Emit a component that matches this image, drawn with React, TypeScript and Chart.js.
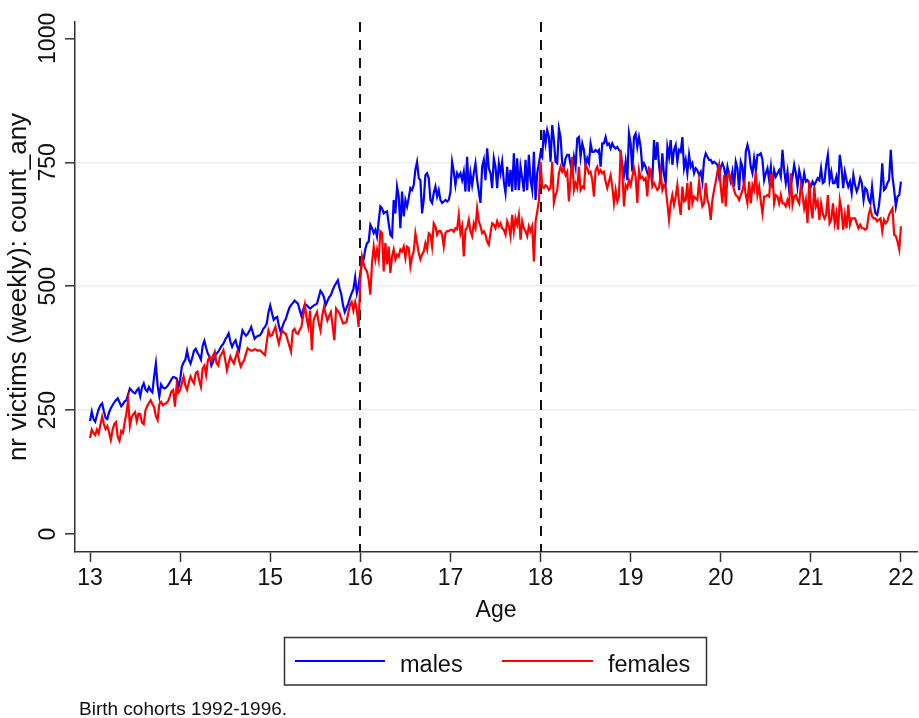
import React, { useEffect, useRef } from "react";
import { Chart, registerables } from "chart.js";

Chart.register(...registerables);

const FONT = "'Liberation Sans', Arial, Helvetica, sans-serif";

// Tick values / labels
const xTicks = [13, 14, 15, 16, 17, 18, 19, 20, 21, 22];
const yTicks = [0, 250, 500, 750, 1000];
const gridValues = [250, 500, 750];
const cutoffAges = [16, 18];
const seriesLabels = ["males", "females"];
const xTitle = "Age";
const yTitle = "nr victims (weekly): count_any";
const noteText = "Birth cohorts 1992-1996.";

// Weekly counts, males, by year of age
const males13 = [228,247,232,227,240,252,260,264,248,234,232,246,254,260,266,270,274,266,258,262,268,270,282,294,290,286,284,290,294,278,296,304,292,288,297,290,286,318,344,300,278,302,296,294,296,300,306,312,317,316,314,295];
const males14 = [312,338,346,352,370,352,344,356,370,374,366,360,352,380,390,376,364,358,340,348,358,364,368,374,380,384,392,398,405,388,378,386,391,378,370,392,411,405,400,404,410,418,406,394,398,400,401,406,414,418,425,448];
const males15 = [461,446,432,436,438,420,408,418,428,434,446,456,462,466,471,468,465,452,440,452,464,462,458,455,458,461,463,465,478,491,486,478,462,470,478,482,492,500,506,512,496,484,462,448,456,465,476,486,494,518,486,500];
const males16 = [527,547,554,575,587,590,624,617,607,614,600,631,661,657,647,650,651,627,604,600,674,647,701,681,617,691,641,674,661,678,698,694,704,735,751,718,714,647,674,724,728,718,674,668,688,701,681,694,674,668,671,674,671,674];
const males17 = [690,751,731,704,728,721,728,714,731,691,761,691,728,704,728,748,714,691,668,741,755,714,778,738,728,698,758,741,698,748,728,751,711,688,741,701,735,691,768,694,758,694,741,718,691,755,694,765,714,694,771,674,728,748];
const males18 = [768,761,815,788,815,801,751,825,795,751,748,818,801,748,738,758,765,765,745,731,761,741,798,801,761,788,775,741,758,748,788,771,771,775,771,775,741,788,788,801,785,788,778,788,781,778,781,775,771,745,724,751,714,808];
const males19 = [788,731,801,808,781,801,781,738,748,741,728,721,731,714,795,755,791,745,714,768,724,708,781,761,795,745,775,785,751,775,771,801,738,755,728,765,741,748,728,738,734,724,731,711,755,768,761,755,755,748,751,748,745,721];
const males20 = [741,748,738,718,741,724,711,731,701,751,738,694,751,741,698,771,785,771,741,728,758,734,765,765,768,755,714,728,738,714,741,698,734,721,728,734,721,775,734,708,731,694,704,721,745,728,701,734,718,704,728,711,714,708];
const males21 = [701,711,704,711,718,714,738,708,711,745,765,714,731,708,708,721,698,765,741,698,731,714,701,711,688,724,704,691,701,718,708,674,698,694,674,667,701,667,647,644,661,694,748,694,698,708,714,775,721,694,661,681,684];
const males22 = [711];

// Weekly counts, females, by year of age
const females13 = [194,211,204,200,211,203,220,237,222,212,218,205,190,210,222,226,196,188,208,204,225,244,270,218,236,242,246,228,243,242,225,222,250,258,265,270,262,256,238,230,262,267,260,262,264,268,277,288,291,257,301,285];
const females14 = [290,304,318,300,291,306,318,310,304,325,328,310,297,334,340,321,350,358,350,360,368,345,340,358,364,371,352,331,345,358,350,344,356,368,350,338,346,351,364,375,372,370,371,373,372,370,371,368,364,361,388,411];
const females15 = [400,401,410,418,398,384,400,411,406,404,392,380,368,410,414,406,404,412,418,440,462,436,418,451,371,431,440,448,426,411,440,458,444,431,440,448,420,391,455,450,445,435,425,426,428,445,462,468,451,468,452,418];
const females16 = [513,560,545,535,530,513,483,547,580,554,574,554,611,607,530,587,544,580,527,560,574,554,564,560,574,570,580,557,580,577,540,560,570,607,587,567,554,564,570,587,574,607,604,580,627,621,604,611,611,604,580,607,611,611];
const females17 = [614,614,610,617,615,644,607,621,560,614,618,634,611,601,627,617,657,631,621,607,611,604,590,584,607,627,624,617,631,621,627,617,614,604,631,621,601,644,611,637,624,644,594,631,617,611,601,621,611,621,550,630,650,672];
const females18 = [751,701,698,704,701,694,698,751,668,684,694,728,741,731,738,724,731,671,718,761,694,708,698,741,694,701,698,745,738,728,731,714,681,734,741,728,734,728,731,711,698,711,724,701,667,694,671,681,775,731,661,704,698,714];
const females19 = [704,721,738,721,668,734,718,721,714,718,681,738,734,701,708,701,694,698,728,694,704,698,667,634,667,684,664,681,704,668,644,701,671,674,708,654,711,667,681,677,674,711,681,661,667,708,674,664,634,674,694,711,731,745];
const females20 = [701,667,724,661,721,728,714,708,694,684,681,674,684,694,708,684,667,711,667,704,694,731,684,701,671,647,681,681,684,681,724,724,667,684,681,667,684,667,667,661,674,664,728,664,681,684,674,667,701,684,657,674,627,711];
const females21 = [661,637,701,661,671,634,667,647,637,644,684,627,634,667,627,647,614,674,654,614,644,617,664,624,637,637,637,627,617,624,617,617,614,617,644,657,641,637,637,631,634,637,611,634,627,631,644,651,657,604,601,590,574];
const females22 = [621];

const maleYears = [males13, males14, males15, males16, males17, males18, males19, males20, males21, males22];
const femaleYears = [females13, females14, females15, females16, females17, females18, females19, females20, females21, females22];

function toPoints(years: number[][]) {
  const pts: { x: number; y: number }[] = [];
  years.forEach((vals, k) => {
    const age = xTicks[0] + k;
    vals.forEach((v, i) => pts.push({ x: age + i / vals.length, y: v }));
  });
  return pts;
}

const seriesColors = ["#0000ff", "#ff0000"];

const decorPlugin = {
  id: "decor",
  beforeDatasetsDraw(chart: any) {
    const { ctx, chartArea, scales } = chart;
    const xs = scales.x;
    ctx.save();
    ctx.strokeStyle = "#111";
    ctx.lineWidth = 2;
    ctx.setLineDash([10, 8]);
    cutoffAges.forEach((a) => {
      const px = Math.round(xs.getPixelForValue(a));
      ctx.beginPath();
      ctx.moveTo(px, chartArea.top);
      ctx.lineTo(px, chartArea.bottom);
      ctx.stroke();
    });
    ctx.restore();
  },
  afterDraw(chart: any) {
    const { ctx, scales } = chart;
    const ys = scales.y;
    ctx.save();
    // rotated y tick labels
    ctx.fillStyle = "#111";
    ctx.font = `23px ${FONT}`;
    ctx.textAlign = "center";
    ctx.textBaseline = "alphabetic";
    ys.ticks.forEach((t: any) => {
      const py = ys.getPixelForValue(t.value);
      ctx.save();
      ctx.translate(55, py);
      ctx.rotate(-Math.PI / 2);
      ctx.fillText(String(t.value), 0, 0);
      ctx.restore();
    });

    // legend box
    ctx.strokeStyle = "#333";
    ctx.lineWidth = 1.5;
    ctx.strokeRect(284.5, 637.5, 422, 47.5);
    const items = [
      { x0: 295, x1: 385, tx: 400 },
      { x0: 502, x1: 593, tx: 608 },
    ];
    items.forEach((it, i) => {
      ctx.strokeStyle = seriesColors[i];
      ctx.lineWidth = 2;
      ctx.beginPath();
      ctx.moveTo(it.x0, 661);
      ctx.lineTo(it.x1, 661);
      ctx.stroke();
      ctx.fillStyle = "#111";
      ctx.font = `23.5px ${FONT}`;
      ctx.textAlign = "left";
      ctx.textBaseline = "alphabetic";
      ctx.fillText(seriesLabels[i], it.tx, 672);
    });

    // note
    ctx.font = `19px ${FONT}`;
    ctx.fillStyle = "#111";
    ctx.textAlign = "left";
    ctx.fillText(noteText, 79, 715);
    ctx.restore();
  },
};

export default function App() {
  const ref = useRef<HTMLCanvasElement | null>(null);

  useEffect(() => {
    if (!ref.current) return;
    const chart = new Chart(ref.current, {
      type: "line",
      data: {
        datasets: [
          {
            label: seriesLabels[0],
            data: toPoints(maleYears),
            borderColor: seriesColors[0],
            backgroundColor: seriesColors[0],
            borderWidth: 2.2,
            pointRadius: 0,
            tension: 0,
            order: 2,
          },
          {
            label: seriesLabels[1],
            data: toPoints(femaleYears),
            borderColor: seriesColors[1],
            backgroundColor: seriesColors[1],
            borderWidth: 2.2,
            pointRadius: 0,
            tension: 0,
            order: 1,
          },
        ],
      },
      options: {
        responsive: false,
        animation: false,
        events: [],
        layout: { padding: { top: 22, right: 2, left: 0, bottom: 0 } },
        plugins: {
          legend: { display: false },
          tooltip: { enabled: false },
        },
        scales: {
          x: {
            type: "linear",
            min: 12.8333,
            max: 22.178,
            afterBuildTicks: (s: any) => {
              s.ticks = xTicks.map((v) => ({ value: v }));
            },
            afterFit: (s: any) => {
              s.height = 166;
            },
            grid: {
              drawOnChartArea: false,
              drawTicks: true,
              tickLength: 10,
              tickColor: "#333",
              tickWidth: 1.5,
            },
            border: { display: true, color: "#333", width: 1.5 },
            ticks: {
              font: { family: FONT, size: 23 },
              color: "#111",
              padding: 3,
              maxRotation: 0,
              minRotation: 0,
              autoSkip: false,
            },
            title: {
              display: true,
              text: xTitle,
              font: { family: FONT, size: 23 },
              color: "#111",
              padding: { top: 0, bottom: 94 },
            },
          },
          y: {
            type: "linear",
            min: -36,
            max: 1033,
            afterBuildTicks: (s: any) => {
              s.ticks = yTicks.map((v) => ({ value: v }));
            },
            afterFit: (s: any) => {
              s.width = 75;
            },
            grid: {
              drawOnChartArea: true,
              color: (c: any) =>
                c.tick && gridValues.includes(c.tick.value) ? "#e6eff1" : "rgba(0,0,0,0)",
              lineWidth: 1.6,
              drawTicks: true,
              tickLength: 10,
              tickColor: "#333",
              tickWidth: 1.5,
            },
            border: { display: true, color: "#333", width: 1.5 },
            ticks: { display: false },
            title: {
              display: true,
              text: yTitle,
              font: { family: FONT, size: 26 },
              color: "#111",
              padding: { top: 3, bottom: 0 },
            },
          },
        },
      },
      plugins: [decorPlugin],
    });
    return () => chart.destroy();
  }, []);

  return (
    <div style={{ position: "absolute", left: 0, top: 0, width: 919, height: 718, background: "#fff" }}>
      <canvas ref={ref} width={919} height={718} style={{ display: "block" }} />
    </div>
  );
}
